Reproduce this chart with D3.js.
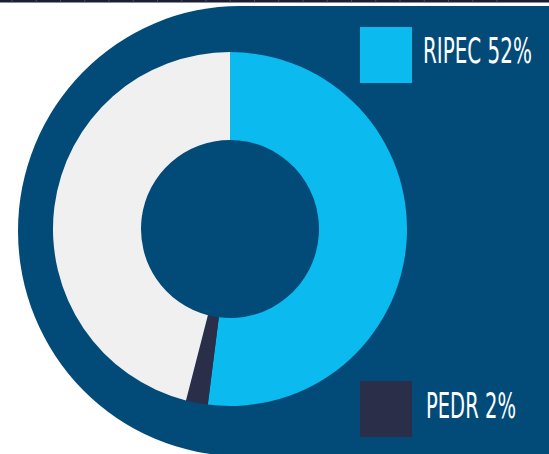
<!DOCTYPE html>
<html>
<head>
<meta charset="utf-8">
<script src="https://cdn.jsdelivr.net/npm/d3@7"></script>
<style>
  html, body { margin: 0; padding: 0; background: #ffffff; }
  svg { display: block; }
</style>
</head>
<body>
<script>
// Share of each component
const categories = ["RIPEC", "PEDR", "Outros"];
const values = [52, 2, 46];
const colors = ["#0bbaef", "#2b2e48", "#f0f0f0"];
const legendItems = ["RIPEC", "PEDR"];

const W = 549, H = 454;
const svg = d3.select("body").append("svg").attr("width", W).attr("height", H);

// thin dark strip along the top edge
svg.append("rect").attr("x", 0).attr("y", 0).attr("width", W).attr("height", 2.5).attr("fill", "#1c1f33");
const tickX = d3.scaleLinear().domain([0, 20]).range([12, 497]);
svg.selectAll("line.strip").data(d3.range(21)).join("line")
  .attr("class", "strip")
  .attr("x1", d => tickX(d)).attr("x2", d => tickX(d))
  .attr("y1", 0).attr("y2", 2.5)
  .attr("stroke", "#5a5d70").attr("stroke-width", 0.7);

// background panel: rounded on the left, square on the right
const bg = "#024b78";
svg.append("ellipse").attr("cx", 240).attr("cy", 231).attr("rx", 222).attr("ry", 225).attr("fill", bg);
svg.append("rect").attr("x", 240).attr("y", 6).attr("width", W - 240).attr("height", H - 6).attr("fill", bg);

// donut
const cx = 230, cy = 229, rOuter = 177, rInner = 89;
const color = d3.scaleOrdinal().domain(categories).range(colors);
const pie = d3.pie().sort(null).value(d => d.value);
const arc = d3.arc().innerRadius(rInner).outerRadius(rOuter);
const data = categories.map((c, i) => ({ name: c, value: values[i] }));

const g = svg.append("g").attr("transform", `translate(${cx},${cy})`);
g.selectAll("path").data(pie(data)).join("path")
  .attr("d", arc)
  .attr("fill", d => color(d.data.name));

// legend
const legendY = d3.scalePoint().domain(legendItems).range([27, 381]);
const textWidth = { RIPEC: 109, PEDR: 90 };
const textX = { RIPEC: 423, PEDR: 426 };
const textBase = { RIPEC: 63, PEDR: 418 };

legendItems.forEach(d => {
  svg.append("rect")
    .attr("x", 360).attr("y", legendY(d))
    .attr("width", 52).attr("height", 56)
    .attr("fill", color(d));
});

// condensed labels: squeeze each label horizontally to its width
legendItems.forEach(d => {
  const t = svg.append("text")
    .attr("x", 0).attr("y", 0)
    .attr("fill", "#ffffff")
    .attr("font-family", "'DejaVu Sans', sans-serif")
    .attr("font-size", 35)
    .text(`${d} ${values[categories.indexOf(d)]}%`);
  const natural = t.node().getComputedTextLength();
  const sx = textWidth[d] / natural;
  t.attr("transform", `translate(${textX[d]},${textBase[d]}) scale(${sx},1)`);
});
</script>
</body>
</html>
